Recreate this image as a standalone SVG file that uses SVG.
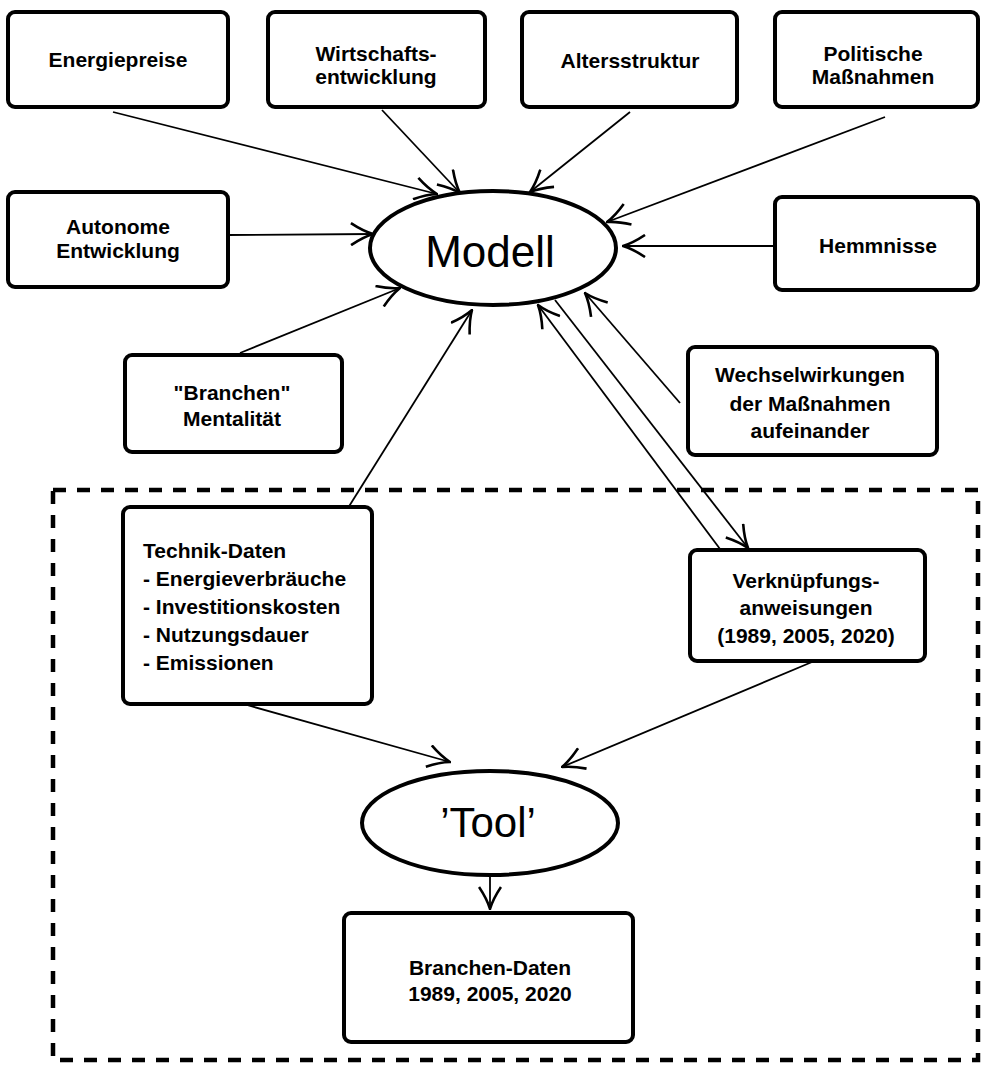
<svg xmlns="http://www.w3.org/2000/svg" width="982" height="1065" viewBox="0 0 982 1065">
  <style>
    .box { fill: #fff; stroke: #000; stroke-width: 4; }
    .ell { fill: #fff; stroke: #000; stroke-width: 4; }
    .lbl { font-family: "Liberation Sans", Arial, sans-serif; font-weight: bold; font-size: 21px; fill: #000; text-anchor: middle; }
    .lst { font-family: "Liberation Sans", Arial, sans-serif; font-weight: bold; font-size: 21px; fill: #000; }
    .big { font-family: "Liberation Sans", Arial, sans-serif; font-size: 44px; fill: #000; text-anchor: middle; }
    .con { fill: none; stroke: #000; stroke-width: 1.8; marker-end: url(#head); }
    .frame { fill: none; stroke: #000; stroke-width: 4.5; stroke-dasharray: 13 11; }
  </style>
  <defs>
    <marker id="head" viewBox="0 0 24 24" refX="23" refY="12" markerWidth="24" markerHeight="24" markerUnits="userSpaceOnUse" orient="auto">
      <path d="M1,1 Q13,9 23,12 Q13,15 1,23" fill="none" stroke="#000" stroke-width="2.6" stroke-linejoin="miter"/>
    </marker>
  </defs>
  <rect width="982" height="1065" fill="#fff"/>

  <!-- dashed system boundary -->
  <rect class="frame" x="53" y="490" width="925" height="570"/>

  <!-- connectors -->
  <g id="connectors">
    <line class="con" x1="113" y1="112" x2="437" y2="194"/>
    <line class="con" x1="382" y1="110" x2="460" y2="193"/>
    <line class="con" x1="630" y1="112" x2="530" y2="192"/>
    <line class="con" x1="885" y1="117" x2="607" y2="222"/>
    <line class="con" x1="228" y1="235" x2="373" y2="234"/>
    <line class="con" x1="775" y1="246" x2="623" y2="246"/>
    <line class="con" x1="240" y1="353" x2="400" y2="288"/>
    <line class="con" x1="348" y1="508" x2="472" y2="310"/>
    <line class="con" x1="720" y1="549" x2="538" y2="305"/>
    <line class="con" x1="555" y1="300" x2="748" y2="548"/>
    <line class="con" x1="680" y1="403" x2="585" y2="293"/>
    <line class="con" x1="247" y1="705" x2="450" y2="762"/>
    <line class="con" x1="812" y1="662" x2="562" y2="767"/>
    <line class="con" x1="490" y1="875" x2="490" y2="909"/>
  </g>

  <g id="energiepreise">
    <rect class="box" x="8" y="12" width="220" height="95" rx="7"/>
    <text class="lbl" x="118" y="67">Energiepreise</text>
  </g>
  <g id="wirtschaftsentwicklung">
    <rect class="box" x="268" y="12" width="217" height="95" rx="7"/>
    <text class="lbl" x="376" y="61">Wirtschafts-</text>
    <text class="lbl" x="376" y="84">entwicklung</text>
  </g>
  <g id="altersstruktur">
    <rect class="box" x="522" y="12" width="215" height="95" rx="7"/>
    <text class="lbl" x="630" y="68">Altersstruktur</text>
  </g>
  <g id="politische-massnahmen">
    <rect class="box" x="775" y="12" width="203" height="95" rx="7"/>
    <text class="lbl" x="873" y="61">Politische</text>
    <text class="lbl" x="873" y="84">Maßnahmen</text>
  </g>
  <g id="autonome-entwicklung">
    <rect class="box" x="8" y="192" width="220" height="95" rx="7"/>
    <text class="lbl" x="118" y="234">Autonome</text>
    <text class="lbl" x="118" y="258">Entwicklung</text>
  </g>
  <g id="modell">
    <ellipse class="ell" cx="493" cy="248" rx="123" ry="57"/>
    <text class="big" x="490" y="267">Modell</text>
  </g>
  <g id="hemmnisse">
    <rect class="box" x="775" y="197" width="203" height="93" rx="7"/>
    <text class="lbl" x="878" y="253">Hemmnisse</text>
  </g>
  <g id="branchen-mentalitaet">
    <rect class="box" x="125" y="355" width="217" height="97" rx="7"/>
    <text class="lbl" x="232" y="400">"Branchen"</text>
    <text class="lbl" x="232" y="426">Mentalität</text>
  </g>
  <g id="wechselwirkungen">
    <rect class="box" x="688" y="347" width="249" height="108" rx="7"/>
    <text class="lbl" x="810" y="382">Wechselwirkungen</text>
    <text class="lbl" x="810" y="411">der Maßnahmen</text>
    <text class="lbl" x="810" y="438">aufeinander</text>
  </g>
  <g id="technik-daten">
    <rect class="box" x="123" y="507" width="249" height="197" rx="7"/>
    <text class="lst" x="143" y="558">Technik-Daten</text>
    <text class="lst" x="143" y="586">- Energieverbräuche</text>
    <text class="lst" x="143" y="614">- Investitionskosten</text>
    <text class="lst" x="143" y="642">- Nutzungsdauer</text>
    <text class="lst" x="143" y="670">- Emissionen</text>
  </g>
  <g id="verknuepfungsanweisungen">
    <rect class="box" x="690" y="550" width="235" height="111" rx="7"/>
    <text class="lbl" x="806" y="588">Verknüpfungs-</text>
    <text class="lbl" x="806" y="615">anweisungen</text>
    <text class="lbl" x="806" y="643">(1989, 2005, 2020)</text>
  </g>
  <g id="tool">
    <ellipse class="ell" cx="490" cy="823" rx="128" ry="52"/>
    <text class="big" x="488" y="837" style="font-size:42px">’Tool’</text>
  </g>
  <g id="branchen-daten">
    <rect class="box" x="344" y="913" width="289" height="129" rx="7"/>
    <text class="lbl" x="490" y="975">Branchen-Daten</text>
    <text class="lbl" x="490" y="1001">1989, 2005, 2020</text>
  </g>
</svg>
